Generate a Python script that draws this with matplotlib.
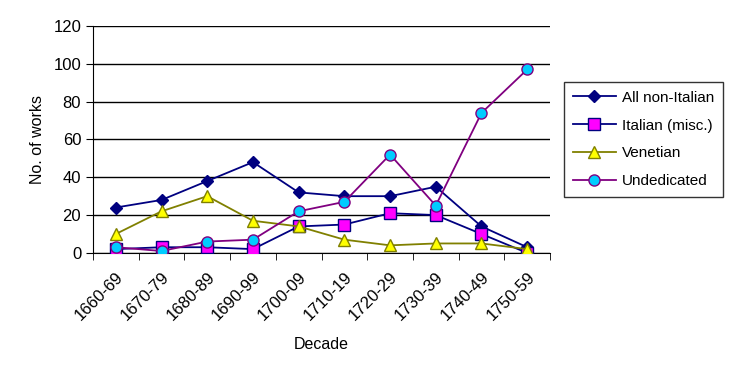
import numpy as np
import matplotlib.pyplot as plt

plt.rcParams['font.family'] = ['Liberation Sans', 'DejaVu Sans']

decades = ["1660-69", "1670-79", "1680-89", "1690-99", "1700-09",
           "1710-19", "1720-29", "1730-39", "1740-49", "1750-59"]
non_italian = [24, 28, 38, 48, 32, 30, 30, 35, 14, 3]
italian_misc = [2, 3, 3, 2, 14, 15, 21, 20, 10, 0]
venetian = [10, 22, 30, 17, 14, 7, 4, 5, 5, 2]
undedicated = [3, 1, 6, 7, 22, 27, 52, 25, 74, 97]

fig = plt.figure(figsize=(7.42, 3.66), dpi=100)
ax = fig.add_axes([0.1253, 0.309, 0.616, 0.620])

x = np.arange(len(decades))
ax.plot(x, non_italian, color='#000080', lw=1.3, marker='D', ms=6,
        mfc='#000080', mec='#000080', label='All non-Italian', zorder=3)
ax.plot(x, italian_misc, color='#000080', lw=1.3, marker='s', ms=8,
        mfc='#FF00FF', mec='#000080', mew=1, label='Italian (misc.)', zorder=3)
ax.plot(x, venetian, color='#808000', lw=1.3, marker='^', ms=8,
        mfc='#FFFF00', mec='#808000', mew=1, label='Venetian', zorder=3)
ax.plot(x, undedicated, color='#800080', lw=1.3, marker='o', ms=8,
        mfc='#00CCFF', mec='#800080', mew=1, label='Undedicated', zorder=3)

ax.set_xlim(-0.5, len(decades) - 0.5)
ax.set_ylim(0, 120)
ax.set_yticks(range(0, 121, 20))
ax.yaxis.grid(True, color='black', lw=1)
ax.set_axisbelow(True)

ax.set_xticks(x)
ax.set_xticklabels(decades, rotation=45, ha='right', rotation_mode='anchor')
ax.set_xticks(np.arange(-0.5, len(decades)), minor=True)
ax.tick_params(axis='x', which='major', length=0, pad=12)
ax.tick_params(axis='x', which='minor', length=5, color='black')
ax.tick_params(axis='y', length=5, color='black')
ax.tick_params(labelsize=12)

for s in ['top', 'right']:
    ax.spines[s].set_visible(False)
ax.spines['left'].set_color('black')
ax.spines['bottom'].set_color('black')

ax.set_xlabel('Decade', fontsize=11.5, labelpad=10)
ax.set_ylabel('No. of works', fontsize=11.5, labelpad=6)

leg = ax.legend(loc='center left', bbox_to_anchor=(1.02, 0.5), fontsize=11,
                frameon=True, fancybox=False, edgecolor='black',
                handlelength=2.8, handletextpad=0.4, borderpad=0.6,
                borderaxespad=0.3, labelspacing=0.9)
leg.get_frame().set_linewidth(1)

fig.savefig('out.png', dpi=100)
